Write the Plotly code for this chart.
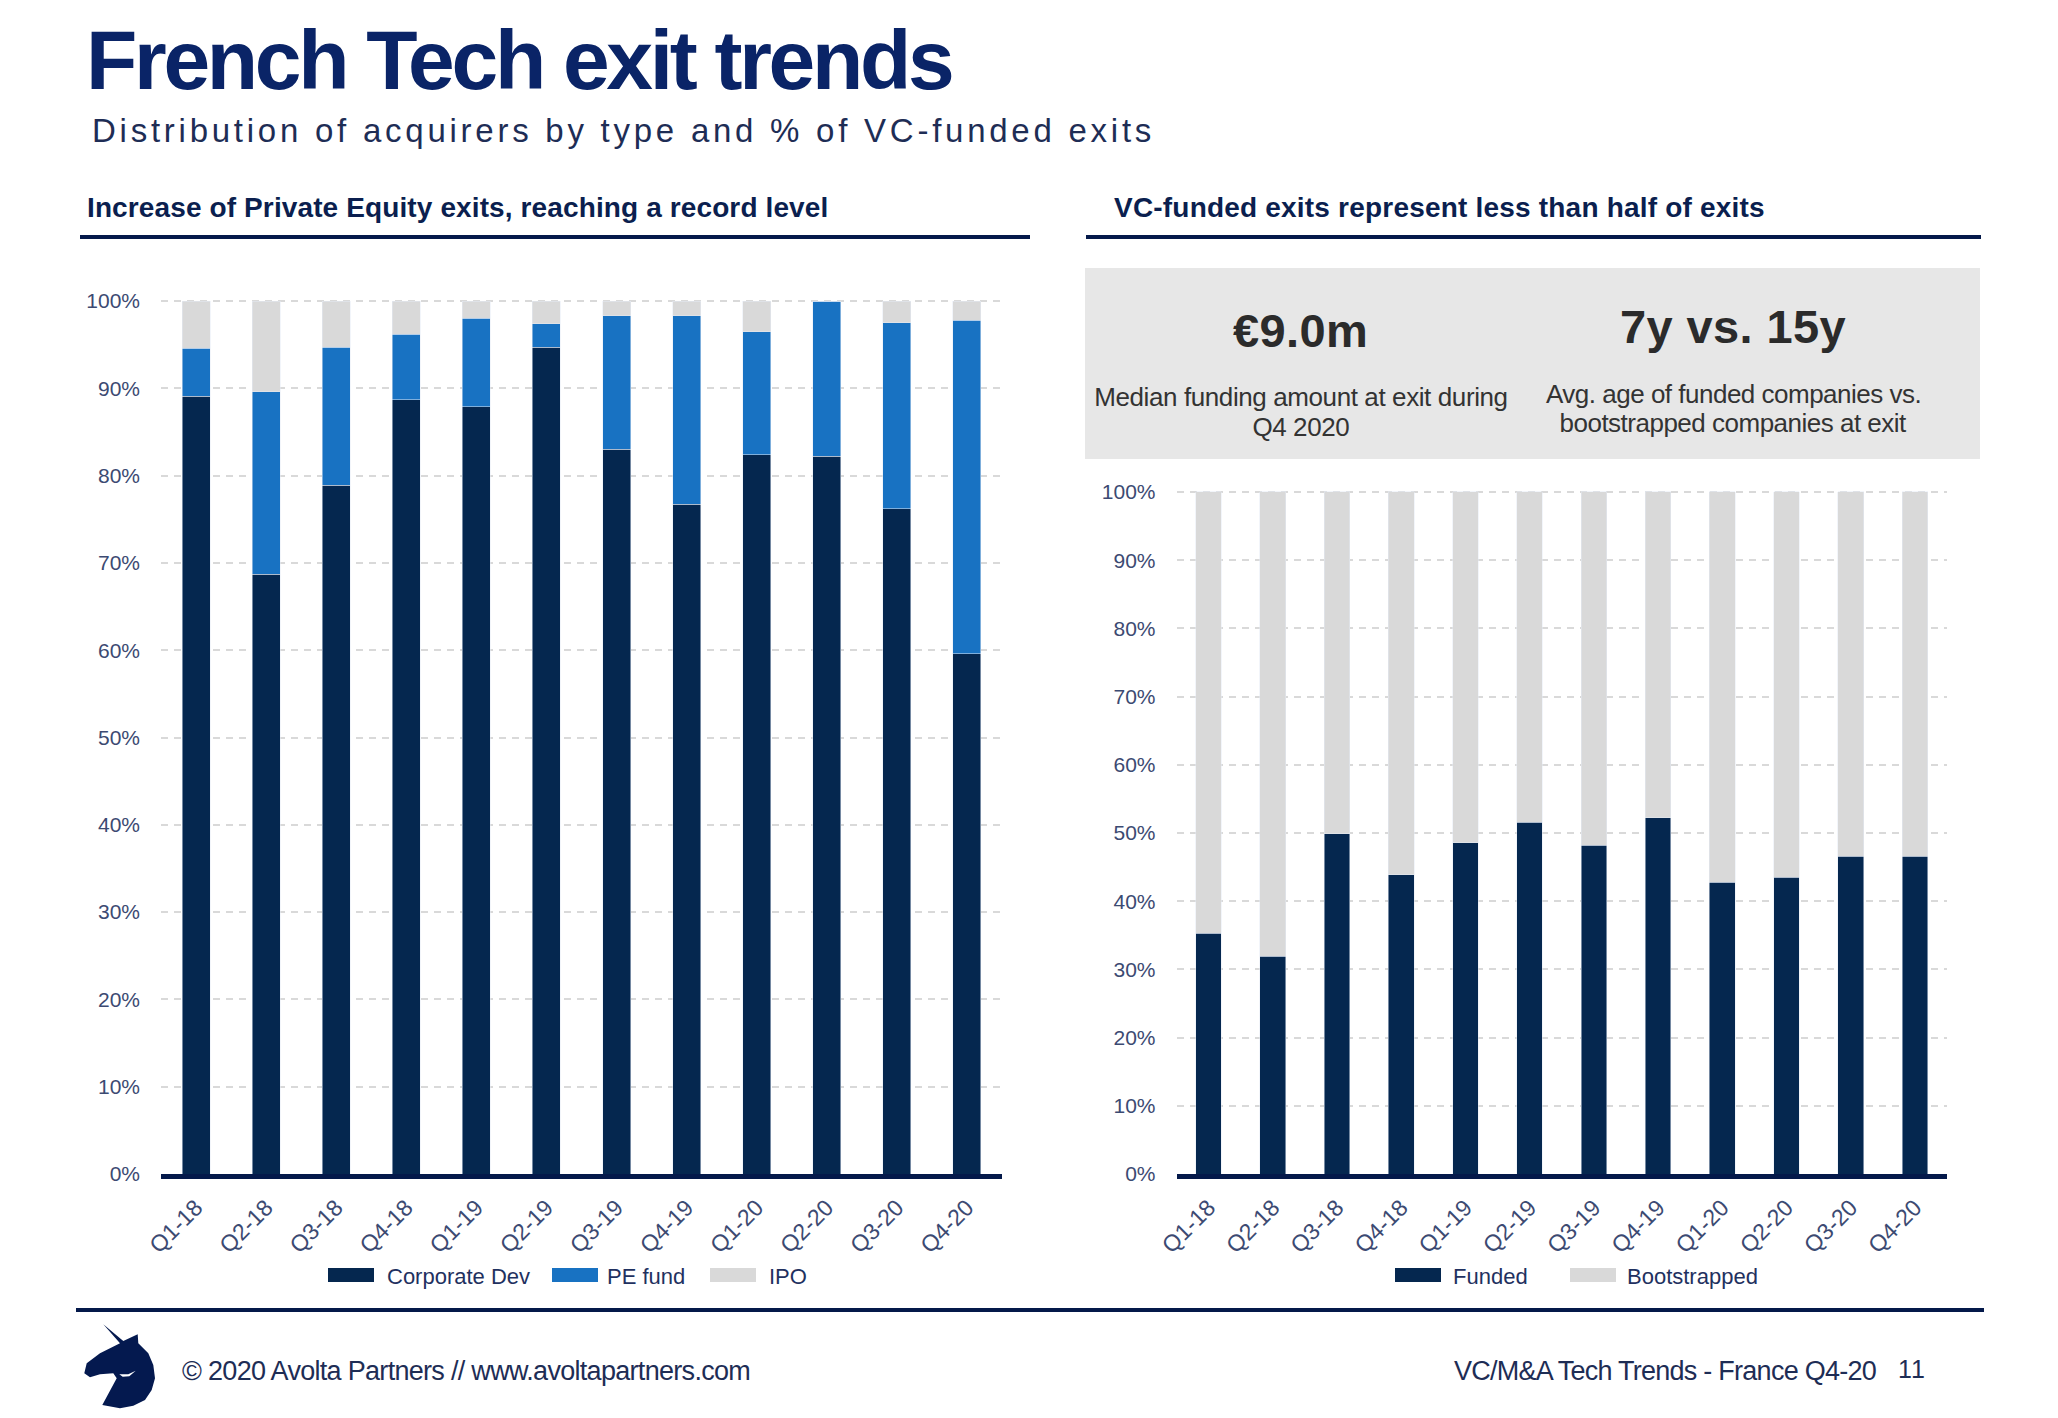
import json
import plotly.graph_objects as go

W, H = 2058, 1418

quarters = ["Q1-18", "Q2-18", "Q3-18", "Q4-18", "Q1-19", "Q2-19",
            "Q3-19", "Q4-19", "Q1-20", "Q2-20", "Q3-20", "Q4-20"]
corporate_dev = [89.1, 68.7, 78.9, 88.7, 87.9, 94.7, 83.0, 76.7, 82.4, 82.2, 76.2, 59.6]
pe_fund = [5.5, 20.9, 15.8, 7.5, 10.1, 2.7, 15.3, 21.6, 14.1, 17.8, 21.3, 38.2]
ipo = [5.4, 10.4, 5.3, 3.8, 2.0, 2.6, 1.7, 1.7, 3.5, 0.0, 2.5, 2.2]
funded = [35.3, 31.9, 49.9, 43.9, 48.6, 51.6, 48.2, 52.2, 42.8, 43.5, 46.6, 46.6]
bootstrapped = [64.7, 68.1, 50.1, 56.1, 51.4, 48.4, 51.8, 47.8, 57.2, 56.5, 53.4, 53.4]

NAVY = "#05274f"
BLUE = "#1872c2"
GREY = "#d9d9d9"
RULE = "#04194a"
TICK = "#3c4a72"
FONT = "Liberation Sans"


def px_x(x):
    return x / W


def px_y(y):
    return 1 - y / H


fig = go.Figure()

# left chart
for name, values, color in [("Corporate Dev", corporate_dev, NAVY),
                            ("PE fund", pe_fund, BLUE),
                            ("IPO", ipo, GREY)]:
    fig.add_bar(x=quarters, y=values, name=name, marker_color=color, showlegend=False)

# right chart
for name, values, color in [("Funded", funded, NAVY),
                            ("Bootstrapped", bootstrapped, GREY)]:
    fig.add_bar(x=quarters, y=values, name=name, marker_color=color, showlegend=False,
                xaxis="x2", yaxis="y2")

annotations = []
spacing = []


def label(text, x, y, size, color, anchor="left", bold=False, space=0):
    annotations.append(dict(
        text=f"<b>{text}</b>" if bold else text,
        x=px_x(x), y=px_y(y), xref="paper", yref="paper",
        xanchor=anchor, yanchor="middle", align=anchor, showarrow=False,
        font=dict(family=FONT, size=size, color=color),
    ))
    spacing.append(space)


label("French Tech exit trends", 84, 60, 84, "#0a2467", bold=True, space=-3.3)
label("Distribution of acquirers by type and % of VC-funded exits", 90, 131, 33, "#1e2d55", space=3.75)
label("Increase of Private Equity exits, reaching a record level", 85, 207, 28, "#0b1f4f", bold=True, space=0.12)
label("VC-funded exits represent less than half of exits", 1112, 207, 28, "#0b1f4f", bold=True, space=0.2)

label("€9.0m", 1300, 331, 47, "#2b2b2b", anchor="center", bold=True, space=0.4)
label("7y vs. 15y", 1733, 327, 47, "#2b2b2b", anchor="center", bold=True, space=0.4)
label("Median funding amount at exit during", 1301, 397, 26, "#333333", anchor="center", space=-0.4)
label("Q4 2020", 1301, 427, 26, "#333333", anchor="center", space=-0.4)
label("Avg. age of funded companies vs.", 1733, 394, 26, "#333333", anchor="center", space=-0.5)
label("bootstrapped companies at exit", 1733, 423, 26, "#333333", anchor="center", space=-0.5)

label("© 2020 Avolta Partners // www.avoltapartners.com", 180, 1371, 27, "#1e2d55", space=-0.7)
label("VC/M&A Tech Trends - France Q4-20", 1452, 1371, 27, "#1e2d55", space=-0.75)
label("11", 1896, 1369, 25, "#1e2d55", space=1)

shapes = []


def rect(x0, y0, x1, y1, color):
    shapes.append(dict(type="rect", xref="paper", yref="paper",
                       x0=px_x(x0), x1=px_x(x1), y0=px_y(y0), y1=px_y(y1),
                       fillcolor=color, line_width=0, layer="below"))


rect(80, 235, 1030, 239, RULE)
rect(1086, 235, 1981, 239, RULE)
rect(76, 1308, 1984, 1312, RULE)
rect(1085, 268, 1980, 459, "#e7e7e7")

# legends, swatches are longer than the ones plotly draws
for name, color, sx, tx in [("Corporate Dev", NAVY, 328, 385), ("PE fund", BLUE, 552, 605), ("IPO", GREY, 710, 767),
                            ("Funded", NAVY, 1395, 1451), ("Bootstrapped", GREY, 1570, 1625)]:
    rect(sx, 1268, sx + 46, 1282, color)
    label(name, tx, 1276, 22, "#1f3160")

# unicorn logo
logo = [(103.3, 1324.3), (123.3, 1341), (137.7, 1334.3), (138.3, 1343.3), (148.3, 1353.3),
        (153.3, 1365), (155, 1378.3), (151.7, 1390), (145, 1400), (133.3, 1405.7),
        (120, 1408.3), (102.3, 1405), (116.7, 1378.3), (113.3, 1373.3), (100, 1374.3),
        (90, 1377.3), (84.3, 1373.3), (86.7, 1363.3), (100, 1353.3), (120, 1343.3)]
crescent = [(119.3, 1374.3), (128.3, 1374.3), (135.7, 1370.7), (129.3, 1376.3), (122.7, 1376.7)]
for points, color in [(logo, "#04194f"), (crescent, "white")]:
    path = "M" + " L".join(f"{px_x(x):.5f},{px_y(y):.5f}" for x, y in points) + " Z"
    shapes.append(dict(type="path", xref="paper", yref="paper", path=path,
                       fillcolor=color, line_width=0))


def x_axis(left, right):
    return dict(domain=[px_x(left), px_x(right)], type="category", tickangle=-45,
                tickfont=dict(family=FONT, size=23, color=TICK), showgrid=False,
                showline=True, linecolor=RULE, linewidth=5, ticks="", ticklabelstandoff=6)


# range goes a hair above 100 so plotly keeps the dashed line at the top
def y_axis(top, anchor):
    return dict(domain=[px_y(1174), px_y(top)], range=[0, 100.2], dtick=10, ticksuffix="%",
                tickfont=dict(family=FONT, size=21, color=TICK), showline=False, zeroline=False,
                gridcolor=GREY, gridwidth=2, griddash="7px,6px", ticks="", ticklabelstandoff=20,
                anchor=anchor)


fig.update_layout(
    width=W, height=H, margin=dict(l=0, r=0, t=0, b=0, autoexpand=False),
    paper_bgcolor="white", plot_bgcolor="white",
    barmode="stack", bargap=0.6, showlegend=False,
    xaxis=dict(x_axis(161, 1002), anchor="y"),
    yaxis=y_axis(299.3, "x"),
    xaxis2=dict(x_axis(1176.5, 1947), anchor="y2"),
    yaxis2=y_axis(490.6, "x2"),
    annotations=annotations, shapes=shapes,
)

# plotly has no letter spacing setting, the slide title needs it
post = """
document.body.style.margin = '0';
var gaps = %s;
document.querySelectorAll('.annotation').forEach(function (a) {
    var t = a.querySelector('.annotation-text');
    var gap = gaps[+a.getAttribute('data-index')];
    if (t && gap) { t.style.letterSpacing = gap + 'px'; }
});
""" % json.dumps(spacing)

fig.write_html("out.html", post_script=post, config={"displayModeBar": False})
